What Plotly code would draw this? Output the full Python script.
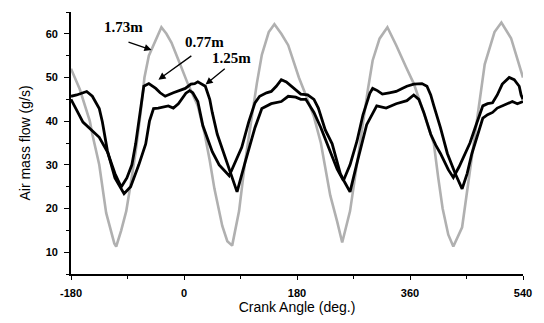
import plotly.graph_objects as go

# ---- data (crank angle in deg, air mass flow in g/s) ----
angle_173 = [-180, -166, -150, -146, -135, -124, -111, -108, -100, -92, -84.5, -77, -69, -63, -56,
             -48.5, -41, -36, -28, -20, -6, 6, 22, 33, 41, 48.5, 61, 69, 76.7, 87.7, 97, 108, 116,
             124, 135, 144, 155, 166, 183, 194, 207, 218, 233, 244, 252, 264.5, 275.5, 285, 293,
             300.5, 311.5, 324, 338, 354, 366, 377, 387, 398, 405, 412, 421, 429, 443, 452, 460,
             468, 479, 494.6, 505.6, 521, 534, 540]
flow_173 = [52, 47.3, 40, 37, 30, 19, 12, 11.3, 15, 19.4, 26, 33, 42, 50, 55,
            57.5, 60, 61.5, 60, 58, 53, 48.6, 43.5, 37, 31, 24.5, 16, 12.5, 11.5, 19.4, 30.4, 41.4, 48.6,
            55.2, 60.4, 62.2, 60, 57.4, 50, 46, 41, 35, 23, 17, 12.2, 19.4, 30.4, 39.8, 47.3,
            53.9, 58.9, 61.5, 57.4, 52.3, 48.6, 44, 39.8, 34.8, 27, 20, 14, 11.3, 15.7, 25, 33,
            42, 53, 60.4, 62.6, 59, 53, 50]

angle_077 = [-180, -161, -135, -122, -110, -100, -91, -83, -77, -70, -64, -56, -45, -38, -30, -17,
             -6, 2, 11, 17, 22, 28, 34, 41, 45, 53, 69, 84.5, 97, 113, 124, 139, 155, 166, 178,
             186, 194, 207, 218, 233, 244, 254, 264.5, 275.5, 285, 296, 300.5, 308, 316, 327, 338,
             347.5, 355, 366, 379, 387, 393, 398, 408.5, 419.5, 432, 443, 451, 458.6, 468, 476,
             483.6, 491.5, 499, 507, 515, 523, 531, 540]
flow_077 = [45, 39.8, 36.3, 33, 28, 24.9, 27, 30, 34.8, 42, 48, 48.6, 47.5, 46.5, 45.7, 46.5,
            47, 47.5, 48.5, 48.6, 49, 48.5, 48, 45, 42, 37, 30.5, 23.8, 30.4, 38.5, 42.9, 44, 44.5, 45.7, 45.5,
            45, 45, 42, 38.5, 33, 29, 26.4, 30, 35.4, 41.4, 46.4, 47.5, 47, 46.2, 46.5, 46.8,
            47.5, 48, 48.5, 48.6, 48, 46, 43.5, 38.5, 32.6, 28, 24.5, 28, 32.6, 37, 40.7,
            41.5, 42, 43, 43.5, 44, 44.5, 44, 44.5]

angle_125 = [-180, -171, -155, -146, -135, -130, -122, -110, -95.5, -85, -72, -61, -55, -48.5, -41,
             -25, -17, -9, 3, 9, 14, 22, 30, 45, 56, 72, 92, 103, 113, 120.5, 131.5, 139, 147, 155,
             163, 171, 178, 186, 197, 207, 214, 225, 236, 249, 256, 264.5, 275.5, 291, 307, 322,
             338, 355, 366, 374, 382, 393, 401, 408.5, 421, 429, 438, 447.6, 455.5, 465, 476,
             483.6, 491.5, 499, 507, 518, 526, 534, 537, 540]
flow_125 = [45.7, 46, 46.8, 45.7, 42.9, 39.8, 33.2, 27, 23.4, 25, 30, 34.8, 40, 42.9, 43,
            43.5, 43, 44, 46.4, 47, 46.5, 44.5, 39, 33, 30, 27.5, 34, 39.8, 44.2, 45.7, 46.5, 46.8, 48, 49.5,
            49, 48, 47.3, 46.2, 46, 45, 43, 38, 34.8, 28, 26, 23.8, 30.4, 39.2, 43.5, 43,
            44, 44.7, 46, 45, 42, 37, 34.5, 32.6, 28.9, 27.1, 29.5, 32.6, 35, 39, 43.5,
            44, 44.2, 46, 48.5, 50, 49.5, 48, 46, 45]

x_ticks = [-180, 0, 180, 360, 540]
y_ticks = [10, 20, 30, 40, 50, 60]

fig = go.Figure()
fig.add_trace(go.Scatter(x=angle_173, y=flow_173, mode="lines", name="1.73m",
                         line=dict(color="#b0b0b0", width=2.6)))
fig.add_trace(go.Scatter(x=angle_077, y=flow_077, mode="lines", name="0.77m",
                         line=dict(color="black", width=2.8)))
fig.add_trace(go.Scatter(x=angle_125, y=flow_125, mode="lines", name="1.25m",
                         line=dict(color="black", width=2.8)))

lab_font = dict(family="Liberation Serif, Times New Roman, serif", size=15, color="black", weight="bold")
labels = [
    ("1.73m", -97, 61.5, -51.7, 56.3, -90.8, 58.2),
    ("0.77m", 32.9, 58.2, -40.7, 49.5, 14.1, 55.2),
    ("1.25m", 75, 54.5, 34.4, 48.4, 67.3, 52.3),
]
for txt, tx, ty, hx, hy, sx, sy in labels:
    fig.add_annotation(x=tx, y=ty, text=txt, showarrow=False, font=lab_font)
    fig.add_annotation(x=hx, y=hy, ax=sx, ay=sy, axref="x", ayref="y", text="",
                       showarrow=True, arrowhead=2, arrowsize=1.1, arrowwidth=1.3,
                       arrowcolor="black")

tick_font = dict(family="Liberation Sans, Arial, sans-serif", size=11, color="black", weight="bold")
fig.update_layout(
    width=544, height=323, autosize=False,
    margin=dict(l=71, r=13, t=12, b=37),
    paper_bgcolor="white", plot_bgcolor="white",
    showlegend=False,
    xaxis=dict(range=[-180, 540], tickvals=x_ticks, ticktext=[str(v) for v in x_ticks],
               showline=True, linecolor="black", linewidth=1.8, ticks="outside",
               ticklen=4, tickwidth=1.4, tickcolor="black", showgrid=False, zeroline=False,
               tickfont=tick_font, ticklabelstandoff=4,
               minor=dict(tickvals=[-90, 90, 270, 450], ticks="outside", ticklen=3,
                          tickcolor="black", showgrid=False),
               title=dict(text="Crank Angle (deg.)", standoff=2,
                          font=dict(family="Liberation Sans, Arial, sans-serif", size=14, color="black"))),
    yaxis=dict(range=[5, 65], tickvals=y_ticks, ticktext=[str(v) for v in y_ticks],
               showline=True, linecolor="black", linewidth=1.8, ticks="outside",
               ticklen=5, tickwidth=1.4, tickcolor="black", showgrid=False, zeroline=False,
               tickfont=tick_font, ticklabelstandoff=4,
               minor=dict(dtick=5, tick0=5, ticks="outside", ticklen=3,
                          tickcolor="black", showgrid=False),
               title=dict(text="Air mass flow (g/s)", standoff=12,
                          font=dict(family="Liberation Sans, Arial, sans-serif", size=14, color="black"))),
)

fig.write_html("out.html")
